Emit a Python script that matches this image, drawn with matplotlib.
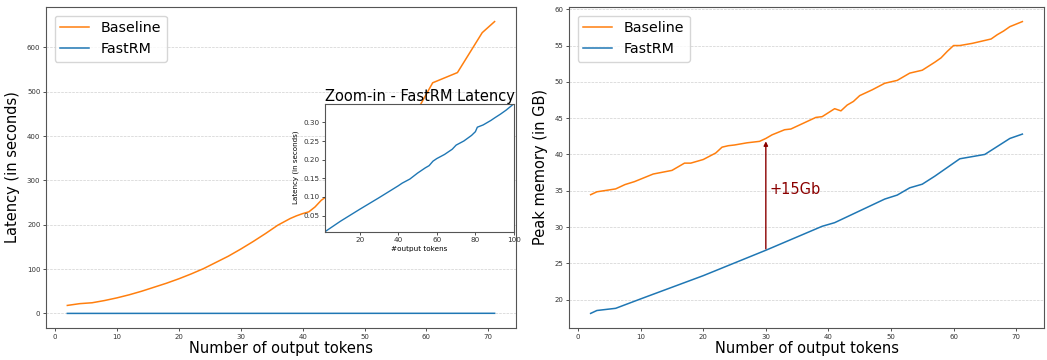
import matplotlib
matplotlib.use('Agg')
import matplotlib.pyplot as plt

# latency (seconds) vs number of output tokens
lat_tokens = [2, 4, 6, 8, 10, 12, 14, 16, 18, 20, 22, 24, 26, 28, 30, 32, 34, 36, 38, 39,
              40, 41, 42, 43, 45, 47, 49, 51, 53, 55, 57, 59, 61, 65, 69, 71]
baseline_lat = [18, 22, 24, 29, 35, 42, 50, 59, 68, 78, 89, 101, 115, 129, 145, 162, 180, 199, 214, 220,
                225, 229, 240, 255, 275, 297, 320, 344, 370, 396, 425, 470, 520, 543, 633, 658]
fastrm_tokens = [2, 10, 20, 30, 40, 50, 60, 71]
fastrm_lat = [0.007, 0.035, 0.067, 0.098, 0.130, 0.164, 0.203, 0.245]

# zoom-in of FastRM latency
zoom_tokens = [2, 10, 20, 30, 40, 42, 46, 50, 54, 56, 58, 60, 64, 68, 70, 74, 78, 80, 81,
               84, 88, 90, 93, 96, 100]
zoom_lat = [0.007, 0.035, 0.067, 0.098, 0.130, 0.137, 0.148, 0.164, 0.178, 0.184, 0.196, 0.203,
            0.214, 0.228, 0.239, 0.250, 0.265, 0.275, 0.287, 0.293, 0.305, 0.312, 0.322, 0.333, 0.350]

# peak memory (GB)
mem_base_tokens = [2, 3, 6, 7.5, 9, 12, 15, 17, 18, 20, 22, 23, 24, 25, 27, 29, 30, 31, 33, 34, 36,
                   38, 39, 41, 42, 43, 44, 45, 47, 49, 51, 53, 55, 57, 58, 59, 60, 61, 63, 65,
                   66, 67, 68, 69, 71]
mem_base = [34.45, 34.85, 35.25, 35.85, 36.25, 37.3, 37.8, 38.8, 38.8, 39.3, 40.2, 41.0, 41.2, 41.3,
            41.6, 41.8, 42.2, 42.7, 43.4, 43.5, 44.3, 45.1, 45.2, 46.3, 46.0, 46.8, 47.3, 48.1,
            48.9, 49.8, 50.2, 51.2, 51.6, 52.7, 53.3, 54.2, 55.0, 55.0, 55.3, 55.7, 55.9, 56.5,
            57.0, 57.6, 58.3]
mem_fast_tokens = [2, 3, 6, 10, 20, 30, 39, 41, 49, 51, 53, 55, 57, 61, 65, 69, 71]
mem_fast = [18.1, 18.5, 18.8, 20.1, 23.3, 26.8, 30.1, 30.6, 33.85, 34.4, 35.4, 35.9, 37.0, 39.4,
            40.0, 42.2, 42.8]

ORANGE = '#ff7f0e'
BLUE = '#1f77b4'

fig = plt.figure(figsize=(10.47, 3.6), dpi=100)


def style(ax, size=5):
    ax.tick_params(labelsize=size, length=2.5, pad=1.5, width=0.6, colors='#333333')
    for s in ax.spines.values():
        s.set_color('#555555')
        s.set_linewidth(0.8)


ax1 = fig.add_axes([0.0439, 0.0889, 0.4489, 0.8917])
ax1.plot(lat_tokens, baseline_lat, color=ORANGE, lw=1.1, label='Baseline')
ax1.plot(fastrm_tokens, fastrm_lat, color=BLUE, lw=1.1, label='FastRM')
ax1.grid(axis='y', ls='--', lw=0.5, color='#d0d0d0')
ax1.set_axisbelow(True)
ax1.set_xlabel('Number of output tokens', fontsize=10.5, labelpad=1)
ax1.set_ylabel('Latency (in seconds)', fontsize=10.5, labelpad=5)
ax1.legend(loc='upper left', fontsize=10.3, borderaxespad=0.6)
style(ax1)

ins = fig.add_axes([0.3104, 0.3564, 0.1805, 0.3556])
ins.plot(zoom_tokens, zoom_lat, color=BLUE, lw=1.0)
ins.margins(0)
ins.set_yticks([0.05, 0.10, 0.15, 0.20, 0.25, 0.30])
ins.set_xticks([20, 40, 60, 80, 100])
ins.set_title('Zoom-in - FastRM Latency', fontsize=10.5, pad=2)
ins.set_xlabel('#output tokens', fontsize=5.2, labelpad=2)
ins.set_ylabel('Latency (in seconds)', fontsize=5.1, labelpad=3)
style(ins, size=5.2)

ax2 = fig.add_axes([0.5435, 0.0889, 0.4536, 0.8917])
ax2.plot(mem_base_tokens, mem_base, color=ORANGE, lw=1.1, label='Baseline')
ax2.plot(mem_fast_tokens, mem_fast, color=BLUE, lw=1.1, label='FastRM')
ax2.grid(axis='y', ls='--', lw=0.5, color='#d0d0d0')
ax2.set_axisbelow(True)
ax2.set_xlabel('Number of output tokens', fontsize=10.5, labelpad=1)
ax2.set_ylabel('Peak memory (in GB)', fontsize=10.5, labelpad=5)
ax2.legend(loc='upper left', fontsize=10.3, borderaxespad=0.6)
ax2.annotate('', xy=(30, 41.8), xytext=(30, 27.0),
             arrowprops=dict(arrowstyle='-|>', color='darkred', lw=1.0, mutation_scale=6,
                             shrinkA=0, shrinkB=0))
ax2.text(30.6, 35.1, '+15Gb', color='darkred', fontsize=10.5, va='center', ha='left')
style(ax2)

fig.savefig('out.png', dpi=100)
